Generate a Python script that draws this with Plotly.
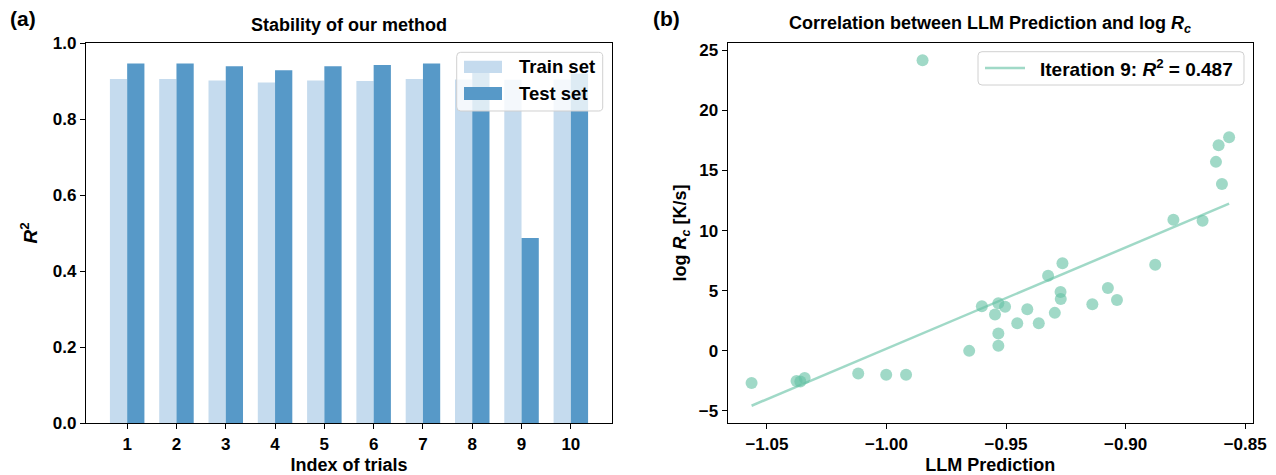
import numpy as np
import plotly.graph_objects as go

# ---------------- data ----------------
trials = [1, 2, 3, 4, 5, 6, 7, 8, 9, 10]
train_r2 = [0.905, 0.905, 0.901, 0.896, 0.901, 0.900, 0.905, 0.904, 0.903, 0.904]
test_r2 = [0.946, 0.946, 0.939, 0.928, 0.939, 0.942, 0.946, 0.946, 0.487, 0.920]

llm_pred = [-1.0564, -1.0376, -1.0360, -1.0342, -1.0118, -1.0001, -0.9918, -0.9849,
            -0.9654, -0.9601, -0.9546, -0.9532, -0.9504, -0.9532, -0.9532, -0.9453,
            -0.9411, -0.9363, -0.9296, -0.9324, -0.9264, -0.9272, -0.9271, -0.9139,
            -0.9074, -0.9036, -0.8876, -0.8800, -0.8678, -0.8597, -0.8622, -0.8611,
            -0.8567]
log_rc = [-2.68, -2.50, -2.55, -2.25, -1.88, -1.99, -1.99, 24.17,
          0.00, 3.71, 3.02, 3.96, 3.66, 1.44, 0.43, 2.30,
          3.46, 2.30, 3.16, 6.25, 7.28, 4.90, 4.32, 3.88,
          5.23, 4.24, 7.17, 10.91, 10.82, 13.87, 15.72, 17.11,
          17.77]
iteration_label = "Iteration 9"
r2_value = 0.487

left_yticks = [0.0, 0.2, 0.4, 0.6, 0.8, 1.0]
right_xticks = [-1.05, -1.00, -0.95, -0.90, -0.85]
right_yticks = [-5, 0, 5, 10, 15, 20, 25]

# ---------------- layout helpers ----------------
W, H = 1276, 475
FONT = "Liberation Sans, Arial, sans-serif"


def fx(p):
    return p / W


def fy(p):
    return 1 - p / H


def rounded_rect(x0, y0, x1, y1, r=4):
    def P(x, y):
        return f"{fx(x):.5f},{fy(y):.5f}"
    return (f"M {P(x0 + r, y0)} L {P(x1 - r, y0)} Q {P(x1, y0)} {P(x1, y0 + r)} "
            f"L {P(x1, y1 - r)} Q {P(x1, y1)} {P(x1 - r, y1)} "
            f"L {P(x0 + r, y1)} Q {P(x0, y1)} {P(x0, y1 - r)} "
            f"L {P(x0, y0 + r)} Q {P(x0, y0)} {P(x0 + r, y0)} Z")


TRAIN_C = "#c5dbee"
TEST_C = "#5799c8"
GREEN = "rgba(102,194,165,0.62)"

fig = go.Figure()

# ---------------- panel (a): bars ----------------
fig.add_trace(go.Bar(x=trials, y=train_r2, width=0.35, offset=-0.35,
                     marker=dict(color=TRAIN_C, line=dict(width=0)),
                     name="Train set", showlegend=False, xaxis="x", yaxis="y"))
fig.add_trace(go.Bar(x=trials, y=test_r2, width=0.35, offset=0.0,
                     marker=dict(color=TEST_C, line=dict(width=0)),
                     name="Test set", showlegend=False, xaxis="x", yaxis="y"))

# ---------------- panel (b): scatter + fit ----------------
xa = np.array(llm_pred)
ya = np.array(log_rc)
slope, intercept = np.polyfit(xa, ya, 1)
fit_x = np.array([xa.min(), xa.max()])
fit_y = slope * fit_x + intercept

fig.add_trace(go.Scatter(x=xa, y=ya, mode="markers",
                         marker=dict(size=12, color=GREEN, line=dict(width=0)),
                         showlegend=False, xaxis="x2", yaxis="y2"))
fig.add_trace(go.Scatter(x=fit_x, y=fit_y, mode="lines",
                         line=dict(color=GREEN, width=2.5),
                         showlegend=False, xaxis="x2", yaxis="y2"))

# ranges (matplotlib-like 5% margins)
xlo, xhi = min(xa.min(), fit_x.min()), max(xa.max(), fit_x.max())
ylo, yhi = min(ya.min(), fit_y.min()), max(ya.max(), fit_y.max())
dx, dy = (xhi - xlo) * 0.05, (yhi - ylo) * 0.05
bx_lo = min(trials) - 0.35
bx_hi = max(trials) + 0.35
bdx = (bx_hi - bx_lo) * 0.05

tickfont = dict(family=FONT, size=17, color="black", weight="bold")
axis_common = dict(showline=True, linecolor="black", linewidth=1.3, mirror=True,
                   ticks="outside", ticklen=5, tickwidth=1.3, tickcolor="black",
                   showgrid=False, zeroline=False, tickfont=tickfont, automargin=False)

ydom = [fy(423), fy(43)]

fig.update_layout(
    width=W, height=H,
    margin=dict(l=0, r=0, t=0, b=0, autoexpand=False),
    paper_bgcolor="white", plot_bgcolor="white",
    font=dict(family=FONT, color="black"),
    barmode="overlay",
    xaxis=dict(domain=[fx(86), fx(612)], range=[bx_lo - bdx, bx_hi + bdx],
               tickmode="array", tickvals=trials, ticktext=[str(t) for t in trials],
               title=dict(text="<b>Index of trials</b>", font=dict(family=FONT, size=18),
                          standoff=5),
               anchor="y", **axis_common),
    yaxis=dict(domain=ydom, range=[0, 1.0], tickmode="array", tickvals=left_yticks,
               ticktext=[f"{v:.1f}" for v in left_yticks],
               title=dict(text="<b><i>R</i></b><sup><b>2</b></sup>",
                          font=dict(family=FONT, size=19), standoff=10),
               anchor="x", **axis_common),
    xaxis2=dict(domain=[fx(727.7), fx(1253)], range=[xlo - dx, xhi + dx],
                tickmode="array", tickvals=right_xticks,
                ticktext=[f"{v:.2f}".replace("-", "\u2212") for v in right_xticks],
                title=dict(text="<b>LLM Prediction</b>", font=dict(family=FONT, size=18),
                           standoff=5),
                anchor="y2", **axis_common),
    yaxis2=dict(domain=ydom, range=[ylo - dy, yhi + dy], tickmode="array",
                tickvals=right_yticks,
                ticktext=[str(v).replace("-", "\u2212") for v in right_yticks],
                title=dict(text="<b>log <i>R</i><sub><i>c</i></sub> [K/s]</b>",
                           font=dict(family=FONT, size=18), standoff=7),
                anchor="x2", **axis_common),
)

shapes = []
annotations = []

# titles & panel labels
annotations.append(dict(text="<b>Stability of our method</b>", x=fx(349), y=fy(25),
                        xref="paper", yref="paper", showarrow=False,
                        font=dict(family=FONT, size=18), xanchor="center", yanchor="middle"))
annotations.append(dict(text="<b>Correlation between LLM Prediction and log <i>R</i><sub><i>c</i></sub></b>",
                        x=fx(990), y=fy(25), xref="paper", yref="paper", showarrow=False,
                        font=dict(family=FONT, size=18), xanchor="center", yanchor="middle"))
annotations.append(dict(text="<b>(a)</b>", x=fx(8), y=fy(18), xref="paper", yref="paper",
                        showarrow=False, font=dict(family=FONT, size=21),
                        xanchor="left", yanchor="middle"))
annotations.append(dict(text="<b>(b)</b>", x=fx(651), y=fy(18), xref="paper", yref="paper",
                        showarrow=False, font=dict(family=FONT, size=21),
                        xanchor="left", yanchor="middle"))

# legend (a)
shapes.append(dict(type="path", path=rounded_rect(456.7, 52.3, 602.7, 111),
                   xref="paper", yref="paper", fillcolor="rgba(255,255,255,0.8)",
                   line=dict(color="#d0d0d0", width=1)))
shapes.append(dict(type="rect", x0=fx(464), x1=fx(502), y0=fy(60.7), y1=fy(73),
                   xref="paper", yref="paper", fillcolor=TRAIN_C, line=dict(width=0)))
shapes.append(dict(type="rect", x0=fx(464), x1=fx(502), y0=fy(87), y1=fy(100),
                   xref="paper", yref="paper", fillcolor=TEST_C, line=dict(width=0)))
annotations.append(dict(text="<b>Train set</b>", x=fx(517), y=fy(67), xref="paper", yref="paper",
                        showarrow=False, font=dict(family=FONT, size=18.5),
                        xanchor="left", yanchor="middle"))
annotations.append(dict(text="<b>Test set</b>", x=fx(517), y=fy(94), xref="paper", yref="paper",
                        showarrow=False, font=dict(family=FONT, size=18.5),
                        xanchor="left", yanchor="middle"))

# legend (b)
shapes.append(dict(type="path", path=rounded_rect(978, 51.7, 1244, 85),
                   xref="paper", yref="paper", fillcolor="rgba(255,255,255,0.8)",
                   line=dict(color="#d0d0d0", width=1)))
shapes.append(dict(type="line", x0=fx(985), x1=fx(1025), y0=fy(68), y1=fy(68),
                   xref="paper", yref="paper", line=dict(color=GREEN, width=2.5)))
annotations.append(dict(text=f"<b>{iteration_label}: <i>R</i><sup>2</sup> = {r2_value:.3f}</b>",
                        x=fx(1038), y=fy(68.5), xref="paper", yref="paper",
                        showarrow=False, font=dict(family=FONT, size=19),
                        xanchor="left", yanchor="middle"))

fig.update_layout(shapes=shapes, annotations=annotations)

fig.write_html("out.html")
